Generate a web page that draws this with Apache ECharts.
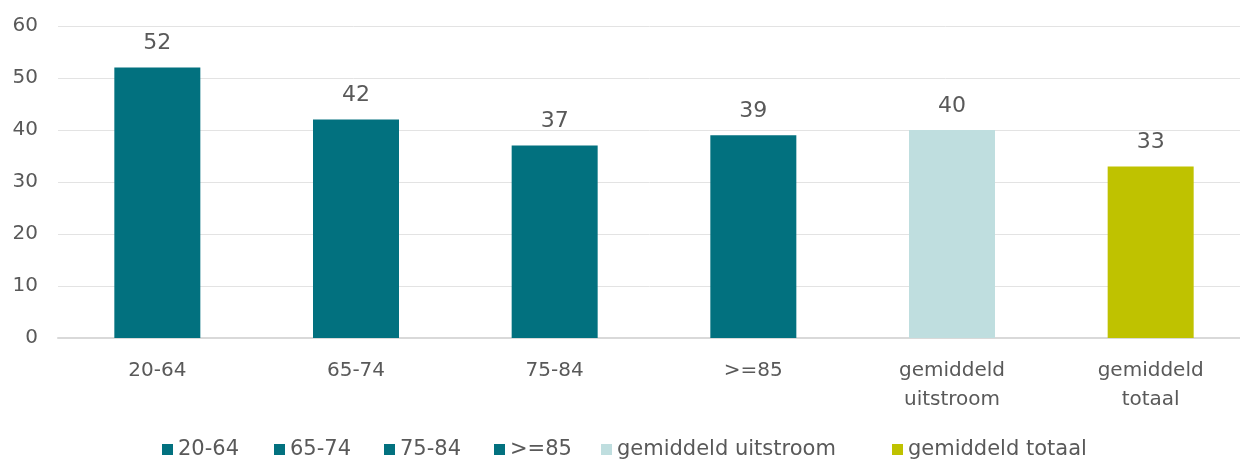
<!DOCTYPE html>
<html><head><meta charset="utf-8">
<script src="https://cdn.jsdelivr.net/npm/echarts@6/dist/echarts.min.js"></script>
<style>html,body{margin:0;padding:0;background:#fff}#c{width:1240px;height:463px}</style>
</head><body><div id="c"></div>
<script>
const categories = ['20-64','65-74','75-84','>=85','gemiddeld uitstroom','gemiddeld totaal'];
const values = [52, 42, 37, 39, 40, 33];
const colors = ['#02717F','#02717F','#02717F','#02717F','#BFDEDF','#BFC200'];
const yTicks = {min: 0, max: 60, interval: 10};

const font = '"DejaVu Sans", sans-serif';
const txt = '#595959';
const legendLeft = [162, 274, 384, 494, 601, 892];

const series = categories.map((name, i) => ({
  name: name,
  type: 'bar',
  barWidth: 86,
  barGap: '-100%',
  itemStyle: {color: colors[i]},
  label: {show: true, position: 'top', distance: 13, color: txt, fontSize: 22, fontFamily: font},
  data: categories.map((c, j) => j === i ? values[i] : null)
}));

const legends = categories.map((name, i) => ({
  top: 439, left: legendLeft[i], itemWidth: 11, itemHeight: 11, icon: 'rect', padding: 0,
  textStyle: {color: txt, fontSize: 21, fontFamily: font},
  data: [name]
}));

const chart = echarts.init(document.getElementById('c'));
chart.setOption({
  animation: false,
  grid: {left: 58, width: 1192, top: 26, height: 312, outerBoundsMode: 'none', containLabel: false},
  legend: legends,
  xAxis: {
    type: 'category', data: categories,
    axisLine: {lineStyle: {color: '#D9D9D9', width: 2}},
    axisTick: {show: false},
    axisLabel: {color: txt, fontSize: 20, fontFamily: font, margin: 18, lineHeight: 29,
      formatter: v => v.replace(' ', '\n')}
  },
  yAxis: {
    type: 'value', min: yTicks.min, max: yTicks.max, interval: yTicks.interval,
    axisLabel: {color: txt, fontSize: 20, fontFamily: font, margin: 20},
    splitLine: {lineStyle: {color: '#E3E3E3', width: 1}}
  },
  series: series
});
</script></body></html>
